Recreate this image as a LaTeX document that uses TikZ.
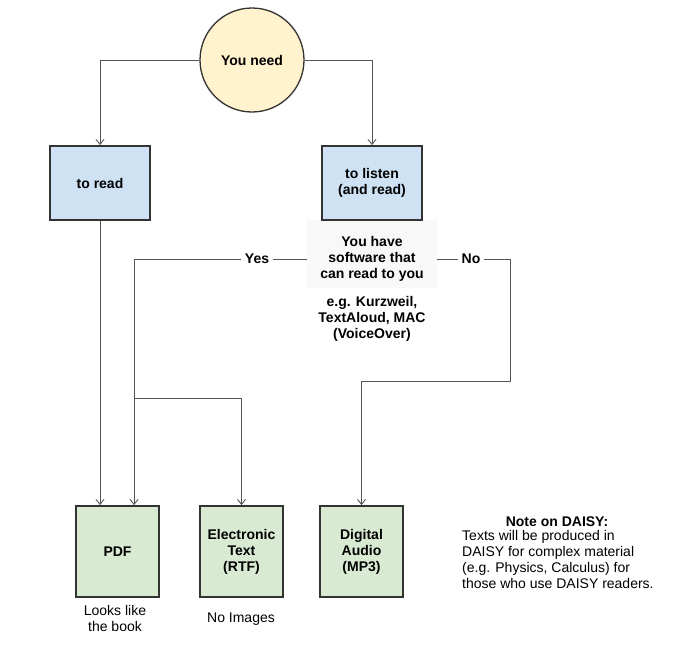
\documentclass[tikz,border=0pt]{standalone}
\usepackage{fontspec}
\setmainfont{Liberation Sans}
\usepackage{xcolor}
\usepackage{tikz}
\usetikzlibrary{positioning, arrows.meta, calc, backgrounds}

\definecolor{needfill}{HTML}{FFF2CC}
\definecolor{askfill}{HTML}{CFE2F3}
\definecolor{formatfill}{HTML}{D9EAD3}
\definecolor{softfill}{HTML}{F8F8F8}
\definecolor{boxline}{HTML}{333333}
\definecolor{linegray}{HTML}{555555}

\begin{document}
\begin{tikzpicture}[x=1pt, y=-1pt,
    font=\fontsize{14}{16}\selectfont,
    boldtext/.style={font=\fontsize{14}{16}\selectfont\bfseries, align=center},
    start/.style={circle, draw=boxline, line width=1.3pt, fill=needfill, minimum size=104pt, inner sep=0pt, boldtext},
    askbox/.style={draw=boxline, line width=1.8pt, fill=askfill, minimum width=100pt, minimum height=74pt, boldtext},
    formatbox/.style={draw=boxline, line width=1.8pt, fill=formatfill, minimum width=83pt, minimum height=91pt, boldtext},
    flow/.style={draw=linegray, line width=0.9pt, -{Straight Barb[length=5pt, width=8pt]}},
    link/.style={draw=linegray, line width=0.9pt}]
    \useasboundingbox (0,0) rectangle (678,654);

    % question nodes
    \node[start] (need) at (252,60) {You need};
    \node[askbox] (read) at (100,183) {to read};
    \node[askbox] (listen) at (372,183) {to listen\\(and read)};
    \node[boldtext, minimum width=129pt] (soft) at (372,259) {You have\\software that\\can read to you};
    \begin{scope}[on background layer]
      \fill[softfill] ($(soft.north west)+(0,-13)$) rectangle ($(soft.south east)+(0,3)$);
    \end{scope}
    \node[boldtext] (egs) at (372,319) {e.g. Kurzweil,\\TextAloud, MAC\\(VoiceOver)};
    \node[boldtext] (yes) at (257,259) {Yes};
    \node[boldtext] (no) at (471,259) {No};

    % formats
    \node[formatbox] (pdf) at (117.5,551.5) {PDF};
    \node[formatbox] (etext) at (241.5,551.5) {Electronic\\Text\\(RTF)};
    \node[formatbox] (audio) at (361.5,551.5) {Digital\\Audio\\(MP3)};
    \node[align=center] (pdfnote) at (115,618) {Looks like\\the book};
    \node (etextnote) at (241,619) {No Images};

    % DAISY note
    \node[boldtext] (daisytitle) at (557,522) {Note on DAISY:};
    \node[align=left, anchor=north west, inner sep=0pt] (daisy) at (462,530)
      {Texts will be produced in\\DAISY for complex material\\(e.g. Physics, Calculus) for\\those who use DAISY readers.};

    \coordinate (split) at (134,398);
    \coordinate (nobend) at (510,381);

    \draw[flow] (need.west) -| (read.north);
    \draw[flow] (need.east) -| (listen.north);
    \draw[flow] (read.south) -- (read.south |- pdf.north);
    \draw[link] (soft.west) -- (yes.east);
    \draw[flow] (yes.west) -| ($(pdf.north)+(16.5,0)$);
    \draw[flow] (split) -| (etext.north);
    \draw[link] (soft.east) -- (no.west);
    \draw[flow] (no.east) -| (nobend) -| (audio.north);
\end{tikzpicture}
\end{document}
